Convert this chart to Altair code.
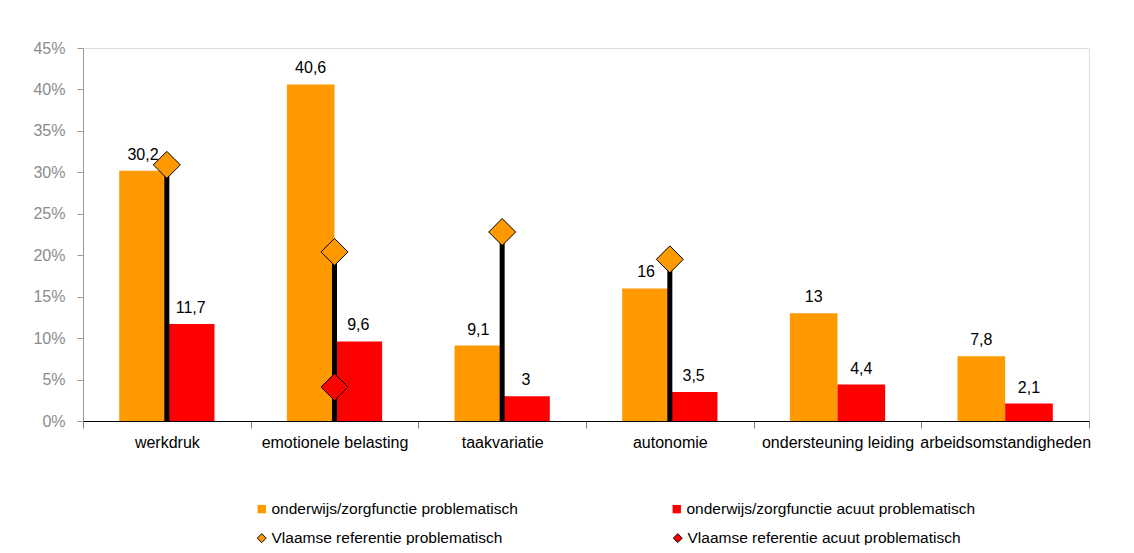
import altair as alt
import pandas as pd

FONT = "Liberation Sans"

categories = ["werkdruk", "emotionele belasting", "taakvariatie", "autonomie",
              "ondersteuning leiding", "arbeidsomstandigheden"]
bar_series = ["onderwijs/zorgfunctie problematisch",
              "onderwijs/zorgfunctie acuut problematisch"]
ref_series = ["Vlaamse referentie problematisch",
              "Vlaamse referentie acuut problematisch"]
problematisch = [30.2, 40.6, 9.1, 16, 13, 7.8]
acuut = [11.7, 9.6, 3, 3.5, 4.4, 2.1]
ref_cats = ["werkdruk", "emotionele belasting", "taakvariatie", "autonomie"]
ref_problematisch = [30.9, 20.4, 22.8, 19.5]
ref_acuut_cats = ["emotionele belasting"]
ref_acuut = [4.1]
colors = ["#FF9900", "#FF0000"]

def fmt(v):
    return f"{v:g}".replace(".", ",")

bar_rows = []
for c, a, b in zip(categories, problematisch, acuut):
    bar_rows.append({"cat": c, "series": bar_series[0], "val": a, "label": fmt(a)})
    bar_rows.append({"cat": c, "series": bar_series[1], "val": b, "label": fmt(b)})
bars_df = pd.DataFrame(bar_rows)

ref_rows = [{"cat": c, "ref": ref_series[0], "val": v} for c, v in zip(ref_cats, ref_problematisch)]
ref_rows += [{"cat": c, "ref": ref_series[1], "val": v} for c, v in zip(ref_acuut_cats, ref_acuut)]
ref_df = pd.DataFrame(ref_rows)
rule_df = pd.DataFrame({"cat": ref_cats, "val": ref_problematisch})

x_enc = alt.X("cat:N", sort=categories,
              scale=alt.Scale(paddingInner=0, paddingOuter=0),
              axis=alt.Axis(title=None, labelAngle=0, labelFontSize=16, labelFont=FONT,
                            labelColor="black", domainColor="black", tickColor="#808080",
                            tickSize=7, tickBand="extent", labelPadding=6, labelLimit=300,
                            labelOverlap=False))
y_enc = alt.Y("val:Q", scale=alt.Scale(domain=[0, 45]),
              axis=alt.Axis(values=list(range(0, 50, 5)), labelExpr="datum.value + '%'",
                            grid=False, title=None, domainColor="#999999", tickColor="#999999",
                            labelColor="#8c8c8c", labelFontSize=16, labelFont=FONT,
                            tickSize=6, labelPadding=12))
xoff = alt.XOffset("series:N", sort=bar_series,
                   scale=alt.Scale(paddingInner=0, paddingOuter=0.76))

color_enc = alt.Color("series:N",
                      scale=alt.Scale(domain=bar_series, range=colors),
                      legend=alt.Legend(
                          title=None, orient="none", legendX=171, legendY=453,
                          columns=2, columnPadding=151, symbolType="square",
                          labelFontSize=15.5, labelFont=FONT, labelColor="black",
                          symbolSize=70, labelOffset=2, labelLimit=400))
fill_enc = alt.Fill("ref:N",
                    scale=alt.Scale(domain=ref_series, range=colors),
                    legend=alt.Legend(
                        title=None, orient="none", legendX=171, legendY=482,
                        columns=2, columnPadding=167, symbolType="diamond",
                        symbolStrokeColor="black", symbolStrokeWidth=1,
                        labelFontSize=15.5, labelFont=FONT, labelColor="black",
                        symbolSize=80, labelOffset=2, labelLimit=400))

bars = alt.Chart(bars_df).mark_bar().encode(x=x_enc, xOffset=xoff, y=y_enc, color=color_enc)
texts = alt.Chart(bars_df).mark_text(baseline="bottom", dy=-8, fontSize=16, font=FONT,
                                     color="black").encode(
    x=alt.X("cat:N", sort=categories), xOffset=xoff, y="val:Q", text="label:N")
rules = alt.Chart(rule_df).mark_rule(color="black", strokeWidth=5).encode(
    x=alt.X("cat:N", sort=categories), y="val:Q", y2=alt.datum(0))
points = alt.Chart(ref_df).mark_point(shape="diamond", filled=True, size=729, stroke="black",
                                      strokeWidth=1, opacity=1).encode(
    x=alt.X("cat:N", sort=categories), y="val:Q", fill=fill_enc)

chart = alt.layer(bars, rules, points, texts).properties(
    width=1006, height=373,
    autosize=alt.AutoSizeParams(type="none"),
    padding={"left": 75, "top": 40, "right": 37, "bottom": 124},
).configure_view(stroke=None).configure(background="white")

chart.save("out.html", embed_options={"renderer": "svg", "actions": False})
